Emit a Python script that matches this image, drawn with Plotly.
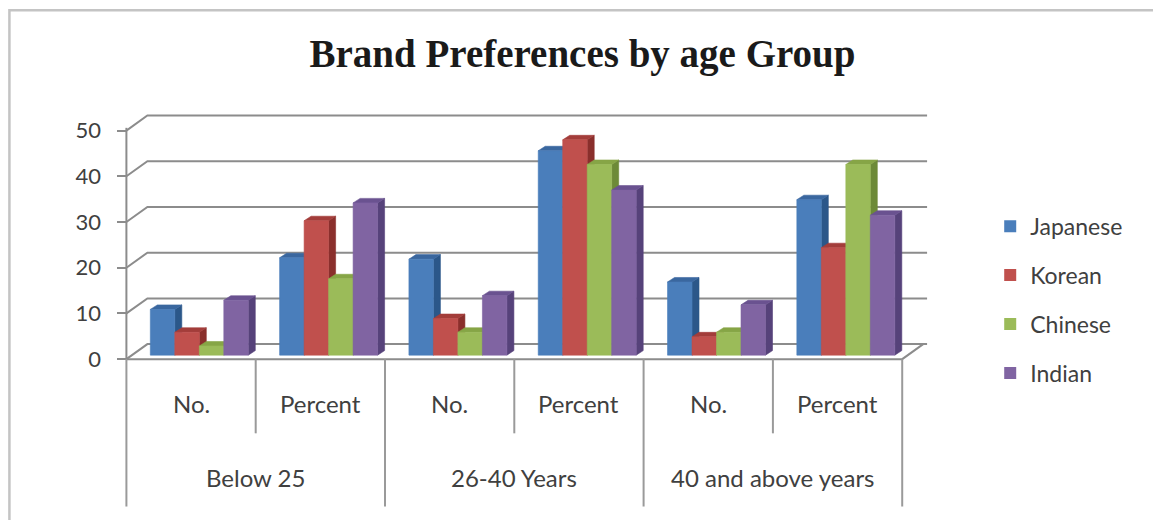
import plotly.graph_objects as go

# ---- data -------------------------------------------------------------
age_groups = ["Below 25", "26-40 Years", "40 and above years"]
measures = ["No.", "Percent"]
brands = ["Japanese", "Korean", "Chinese", "Indian"]

# one value per (age group, measure) column: No., Percent, No., Percent, ...
japanese = [10, 21.3, 21, 44.7, 16, 34.0]
korean = [5, 29.4, 8, 47.1, 4, 23.5]
chinese = [2, 16.7, 5, 41.7, 5, 41.7]
indian = [12, 33.3, 13, 36.1, 11, 30.6]

y_ticks = [0, 10, 20, 30, 40, 50]

# ---- styles -----------------------------------------------------------
front_colors = ["#4a7ebb", "#c0504d", "#9bbb59", "#8064a2"]
side_colors = ["#2b5789", "#8a2f2c", "#6d8a38", "#56427a"]
top_colors = ["#3a679f", "#a33d3a", "#86a546", "#6a5290"]
wall_color = "#8c8c8c"
text_color = "#404040"
FONT = "Lato"

# ---- page geometry (pixels) ---------------------------------------------
W, H = 1153, 520
CAT_PX = 129.33          # width of one category column
UNIT_PX = 4.56           # pixels per value unit
X0_PX, Y0_PX = 126, 359  # front-left floor corner
X_RANGE = [-0.65, 5.8]
Y_RANGE = [-1.5, 54.5]

ml = X0_PX - (-0.5 - X_RANGE[0]) * CAT_PX
plot_w = (X_RANGE[1] - X_RANGE[0]) * CAT_PX
mr = W - ml - plot_w
mb = H - (Y0_PX + (0 - Y_RANGE[0]) * UNIT_PX)
plot_h = (Y_RANGE[1] - Y_RANGE[0]) * UNIT_PX
mt = H - mb - plot_h


def paper_x(px):
    return (px - ml) / plot_w


def paper_y(py):
    return (H - mb - py) / plot_h


# 3-D projection offsets (in data units)
DX, DY = 21 / CAT_PX, 15 / UNIT_PX          # depth of walls / floor
SDX, SDY = 7 / CAT_PX, 4.5 / UNIT_PX        # depth of each column
BAR_W = 24.5 / CAT_PX
CLUSTER_START = -0.315
BASE = 4 / UNIT_PX

n_cols = len(age_groups) * len(measures)
series = [japanese, korean, chinese, indian]

fig = go.Figure()

# ---- walls, floor, gridlines -----------------------------------------
wx, wy = [], []
for v in y_ticks:
    # side-wall connector and back-wall gridline
    wx += [-0.5, -0.5 + DX, n_cols - 0.5 + DX + 0.03, None]
    wy += [v, v + DY, v + DY, None]
wx += [-0.5, n_cols - 0.5, n_cols - 0.5 + DX, None]
wy += [0, 0, DY, None]
wx += [-0.5, -0.5, None]
wy += [0, y_ticks[-1] + 0.6, None]
fig.add_trace(go.Scatter(x=wx, y=wy, mode="lines",
                         line=dict(color=wall_color, width=2),
                         hoverinfo="skip", showlegend=False))

# ---- 3-D columns ------------------------------------------------------
for s, vals in enumerate(series):
    fx, fy, sx, sy, tx, ty = [], [], [], [], [], []
    for k, v in enumerate(vals):
        x0 = k + CLUSTER_START + s * BAR_W
        x1 = x0 + BAR_W
        top = BASE + v
        fx += [x0, x1, x1, x0, x0, None]
        fy += [BASE, BASE, top, top, BASE, None]
        sx += [x1, x1 + SDX, x1 + SDX, x1, x1, None]
        sy += [BASE, BASE + SDY, top + SDY, top, BASE, None]
        tx += [x0, x0 + SDX, x1 + SDX, x1, x0, None]
        ty += [top, top + SDY, top + SDY, top, top, None]
    for xs, ys, col in ((sx, sy, side_colors[s]), (tx, ty, top_colors[s]),
                        (fx, fy, front_colors[s])):
        fig.add_trace(go.Scatter(x=xs, y=ys, mode="lines", fill="toself",
                                 fillcolor=col, line=dict(width=0.6, color=col),
                                 hoverinfo="skip", showlegend=False))

# legend swatches
for s, name in enumerate(brands):
    fig.add_trace(go.Bar(x=[None], y=[None], name=name, legendgroup=name,
                         marker=dict(color=front_colors[s], line=dict(width=0))))

# ---- category axis (two levels) ---------------------------------------
shapes = []
for k in range(n_cols + 1):
    outer = k % len(measures) == 0
    shapes.append(dict(type="line", xref="x", yref="paper",
                       x0=k - 0.5, x1=k - 0.5,
                       y0=paper_y(Y0_PX), y1=paper_y(506 if outer else 433),
                       line=dict(color="#9a9a9a", width=2)))
# chart border
shapes.append(dict(type="rect", xref="paper", yref="paper",
                   x0=paper_x(9), x1=paper_x(W + 20),
                   y0=paper_y(H + 20), y1=paper_y(11),
                   line=dict(color="#c4c4c4", width=2.5)))

annotations = []
for g, grp in enumerate(age_groups):
    for m, meas in enumerate(measures):
        annotations.append(dict(x=g * len(measures) + m, y=paper_y(403),
                                xref="x", yref="paper", text=meas,
                                showarrow=False, yanchor="middle",
                                font=dict(family=FONT, size=24, color=text_color)))
    annotations.append(dict(x=g * len(measures) + (len(measures) - 1) / 2,
                            y=paper_y(477), xref="x", yref="paper", text=grp,
                            showarrow=False, yanchor="middle",
                            font=dict(family=FONT, size=24, color=text_color)))

fig.update_layout(
    width=W, height=H, autosize=False, template="none",
    paper_bgcolor="white", plot_bgcolor="rgba(0,0,0,0)",
    margin=dict(l=ml, r=mr, t=mt, b=mb, pad=0),
    title=dict(text="<b>Brand Preferences by age Group</b>",
               x=582.5 / W, xref="container", xanchor="center",
               y=1 - 53 / H, yref="container", yanchor="middle",
               font=dict(family="Liberation Serif", size=39, color="#1a1a1a")),
    xaxis=dict(range=X_RANGE, visible=False, fixedrange=True),
    yaxis=dict(range=Y_RANGE, anchor="free", position=paper_x(X0_PX),
               tickvals=y_ticks, ticks="outside", ticklen=9, tickwidth=2,
               tickcolor=wall_color, showgrid=False, zeroline=False,
               showline=False, ticklabelstandoff=12,
               tickfont=dict(family=FONT, size=22, color=text_color)),
    showlegend=True,
    legend=dict(x=paper_x(990), y=paper_y(205), xanchor="left", yanchor="top",
                tracegroupgap=16, bgcolor="rgba(0,0,0,0)",
                font=dict(family=FONT, size=23, color=text_color)),
    shapes=shapes, annotations=annotations,
    bargap=0.2,
)

fig.write_html("out.html")
